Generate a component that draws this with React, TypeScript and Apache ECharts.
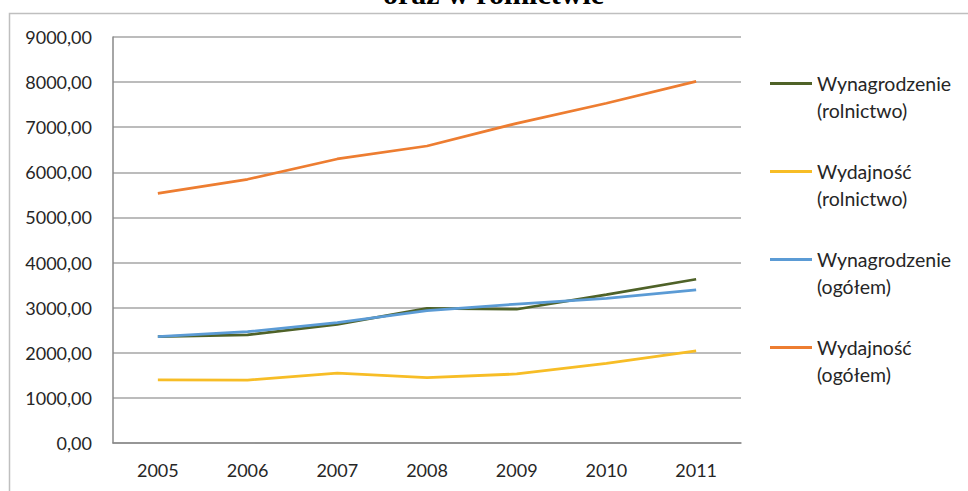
import React, { useEffect, useRef } from "react";
import * as echarts from "echarts";

const years = ["2005", "2006", "2007", "2008", "2009", "2010", "2011"];
const wynagrodzenieRolnictwo = [2360, 2395, 2630, 2985, 2965, 3290, 3630];
const wydajnoscRolnictwo = [1400, 1395, 1550, 1450, 1530, 1765, 2040];
const wynagrodzenieOgolem = [2360, 2468, 2667, 2933, 3081, 3207, 3392];
const wydajnoscOgolem = [5535, 5846, 6296, 6584, 7087, 7531, 8018];

const seriesNames = [
  "Wynagrodzenie\n(rolnictwo)",
  "Wydajność\n(rolnictwo)",
  "Wynagrodzenie\n(ogółem)",
  "Wydajność\n(ogółem)",
];
const seriesData = [wynagrodzenieRolnictwo, wydajnoscRolnictwo, wynagrodzenieOgolem, wydajnoscOgolem];
const seriesColors = ["#4F6228", "#F7BD26", "#5B9BD5", "#ED7D31"];
const titleText = "oraz w rolnictwie";

const FONT = "Lato, 'Noto Sans', sans-serif";

export default function App() {
  const ref = useRef<HTMLDivElement>(null);
  useEffect(() => {
    document.body.style.margin = "0";
    const chart = echarts.init(ref.current!, undefined, { renderer: "svg" });
    chart.setOption({
      animation: false,
      backgroundColor: "#ffffff",
      textStyle: { fontFamily: FONT },
      graphic: [
        {
          type: "rect",
          shape: { x: 9.5, y: 13.5, width: 1200, height: 800 },
          style: { fill: "none", stroke: "#BFBFBF", lineWidth: 1.5 },
          silent: true,
        },
        {
          type: "text",
          x: 383,
          y: -7,
          style: {
            text: titleText,
            fontFamily: "'Liberation Serif', 'DejaVu Serif', serif",
            fontWeight: "bold",
            fontSize: 30,
            fill: "#000000",
            align: "left",
            verticalAlign: "middle",
          },
        },
      ],
      grid: { left: 113, right: 227, top: 37, bottom: 48, containLabel: false },
      xAxis: {
        type: "category",
        data: years,
        boundaryGap: true,
        axisLine: { show: true, lineStyle: { color: "#898989", width: 1.5 } },
        axisTick: { show: false },
        axisLabel: { color: "#262626", fontSize: 18, margin: 18, fontFamily: FONT },
      },
      yAxis: {
        type: "value",
        min: 0,
        max: 9000,
        interval: 1000,
        axisLine: { show: true, lineStyle: { color: "#898989", width: 1.5 } },
        axisTick: { show: false },
        splitLine: { show: true, lineStyle: { color: "#A6A6A6", width: 1.5 } },
        axisLabel: {
          color: "#262626",
          fontSize: 18,
          margin: 21,
          fontFamily: FONT,
          formatter: (v: number) => v.toFixed(2).replace(".", ","),
        },
      },
      legend: {
        orient: "vertical",
        left: 770,
        top: 43,
        padding: 0,
        icon: "rect",
        itemWidth: 42,
        itemHeight: 3,
        itemGap: 7,
        formatter: (name: string) => "\n" + name,
        textStyle: { fontSize: 19.5, lineHeight: 27, color: "#262626", fontFamily: FONT },
        data: seriesNames,
      },
      series: seriesNames.map((name, i) => ({
        name,
        type: "line",
        data: seriesData[i],
        symbol: "none",
        lineStyle: { color: seriesColors[i], width: 2.75 },
        itemStyle: { color: seriesColors[i] },
      })),
    });
    return () => chart.dispose();
  }, []);
  return <div ref={ref} style={{ width: 968, height: 491 }} />;
}
